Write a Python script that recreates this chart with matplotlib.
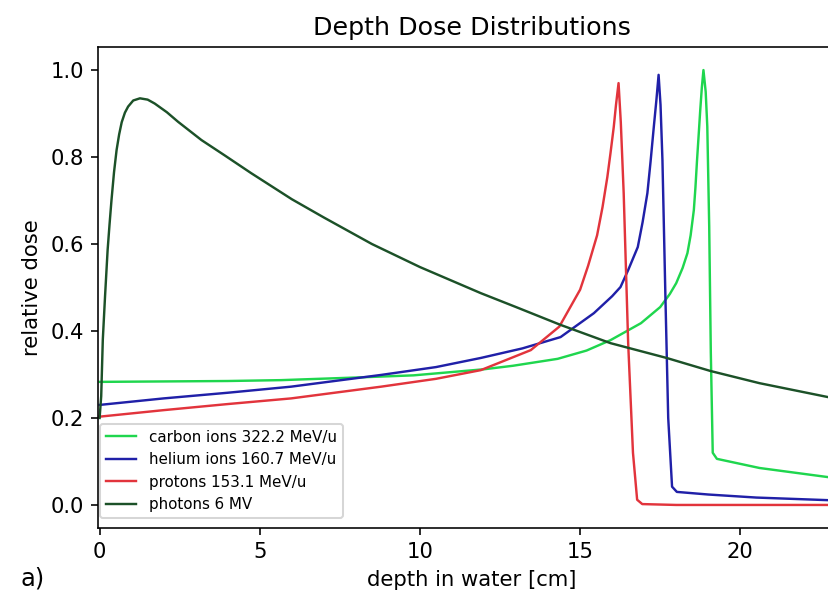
import matplotlib
matplotlib.use("Agg")
import matplotlib.pyplot as plt

# depth [cm] / relative dose read per beam
carbon_x = [0, 2, 4, 5.67, 8, 9.8, 10.9, 12, 12.9, 14.3, 15.2, 15.95, 16.9, 17.5, 17.8, 18.0, 18.2,
            18.35, 18.45, 18.55, 18.6, 18.65, 18.7, 18.75, 18.8, 18.85, 18.92, 18.97, 19.03, 19.08,
            19.14, 19.27, 20.6, 22.74, 23.5]
carbon_y = [0.283, 0.284, 0.285, 0.287, 0.293, 0.298, 0.305, 0.312, 0.32, 0.336, 0.355, 0.379, 0.418,
            0.455, 0.485, 0.51, 0.545, 0.579, 0.62, 0.678, 0.73, 0.793, 0.85, 0.908, 0.96, 1.0, 0.95,
            0.87, 0.64, 0.35, 0.12, 0.106, 0.085, 0.064, 0.058]

helium_x = [0, 2, 4, 5.98, 8.79, 10.5, 11.9, 13.2, 14.39, 15.43, 16.0, 16.26, 16.5, 16.8, 16.95,
            17.1, 17.2, 17.3, 17.38, 17.45, 17.51, 17.57, 17.66, 17.75, 17.87, 18.02, 19, 20.5,
            22.74, 23.5]
helium_y = [0.23, 0.245, 0.258, 0.272, 0.299, 0.317, 0.338, 0.36, 0.386, 0.441, 0.48, 0.501, 0.54,
            0.593, 0.65, 0.717, 0.79, 0.869, 0.93, 0.989, 0.92, 0.793, 0.487, 0.2, 0.042, 0.030,
            0.024, 0.017, 0.011, 0.010]

proton_x = [0, 2, 4, 5.98, 8.79, 10.5, 11.9, 13.46, 14.35, 15.0, 15.25, 15.53, 15.7, 15.85, 15.95,
            16.05, 16.12, 16.2, 16.27, 16.36, 16.5, 16.65, 16.78, 16.94, 18, 23.5]
proton_y = [0.203, 0.218, 0.232, 0.245, 0.272, 0.29, 0.31, 0.356, 0.41, 0.495, 0.55, 0.62, 0.685,
            0.754, 0.81, 0.869, 0.92, 0.970, 0.88, 0.717, 0.372, 0.12, 0.012, 0.002, 0.0, 0.0]

photon_x = [0, 0.05, 0.1, 0.17, 0.25, 0.31, 0.37, 0.45, 0.53, 0.61, 0.69, 0.79, 0.89, 1.05, 1.26,
            1.5, 1.72, 2.1, 2.45, 3.18, 3.9, 4.73, 6, 7, 8.5, 10, 11.9, 13, 14.39, 15.95, 17.7,
            19.07, 20.6, 22.74, 23.5]
photon_y = [0.20, 0.25, 0.38, 0.48, 0.586, 0.645, 0.70, 0.765, 0.816, 0.852, 0.88, 0.902, 0.916,
            0.93, 0.935, 0.932, 0.923, 0.903, 0.881, 0.839, 0.804, 0.763, 0.703, 0.661, 0.600,
            0.547, 0.487, 0.455, 0.414, 0.372, 0.338, 0.308, 0.28, 0.248, 0.237]

labels = ['carbon ions 322.2 MeV/u', 'helium ions 160.7 MeV/u',
          'protons 153.1 MeV/u', 'photons 6 MV']

plt.rcParams['font.size'] = 10.5

fig = plt.figure(figsize=(828 / 145, 596 / 145), dpi=145)
ax = fig.add_axes([98 / 828, 68 / 596, 748 / 828, 481 / 596])

ax.plot(carbon_x, carbon_y, color='#1fd64e', lw=1.2, label=labels[0])
ax.plot(helium_x, helium_y, color='#2020a8', lw=1.2, label=labels[1])
ax.plot(proton_x, proton_y, color='#e2343c', lw=1.2, label=labels[2])
ax.plot(photon_x, photon_y, color='#1c5128', lw=1.2, label=labels[3])

ax.set_xlim(-0.05, 23.3)
ax.set_ylim(-0.053, 1.053)
ax.set_xticks([0, 5, 10, 15, 20])
ax.set_yticks([0.0, 0.2, 0.4, 0.6, 0.8, 1.0])
ax.spines['right'].set_visible(False)

ax.set_title('Depth Dose Distributions')
ax.set_xlabel('depth in water [cm]')
ax.set_ylabel('relative dose')
ax.legend(loc='lower left', bbox_to_anchor=(0.003, 0.02), borderaxespad=0, fontsize=7.5)

fig.text(20 / 828, 0.018, 'a)', fontsize=12)

fig.savefig('out.png', dpi=145)
